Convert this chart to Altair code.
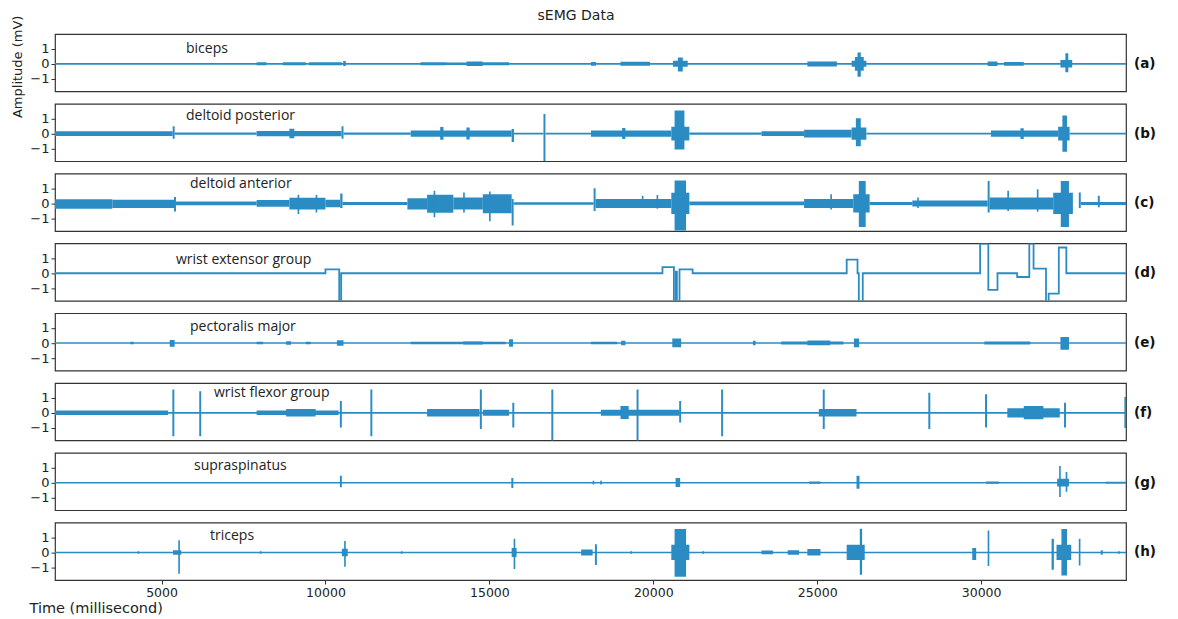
import altair as alt
import pandas as pd

# ---------------- data ----------------
T_MIN, T_MAX = 1750, 34420
Y_MIN, Y_MAX = -1.82, 1.97
x_ticks = [5000, 10000, 15000, 20000, 25000, 30000]
y_ticks = [-1, 0, 1]

names = ["biceps", "deltoid posterior", "deltoid anterior", "wrist extensor group",
         "pectoralis major", "wrist flexor group", "supraspinatus", "triceps"]
tags = ["(a)", "(b)", "(c)", "(d)", "(e)", "(f)", "(g)", "(h)"]

# activity segments per muscle: start (ms), end (ms), low (mV), high (mV)
biceps_t0 = [1750, 7900, 8700, 9500, 10540, 12900, 13700, 14300, 14800, 18100, 19000, 20600, 20750, 24700, 26050, 26150, 26230, 30200, 30700, 32420, 32570]
biceps_t1 = [34420, 8200, 9400, 10500, 10620, 13700, 14400, 14800, 15600, 18250, 19900, 21050, 20900, 25600, 26500, 26420, 26330, 30500, 31300, 32780, 32660]
biceps_lo = [-0.06, -0.1, -0.1, -0.1, -0.15, -0.1, -0.08, -0.15, -0.1, -0.12, -0.13, -0.2, -0.5, -0.18, -0.2, -0.45, -0.85, -0.15, -0.12, -0.25, -0.55]
biceps_hi = [0.06, 0.1, 0.1, 0.1, 0.18, 0.1, 0.08, 0.15, 0.1, 0.12, 0.13, 0.2, 0.42, 0.16, 0.2, 0.45, 0.75, 0.15, 0.12, 0.25, 0.7]

post_t0 = [1750, 5340, 5400, 7900, 8900, 10490, 10550, 12600, 13500, 14300, 15680, 15750, 16650, 16710, 18100, 19050, 20550, 20650, 21100, 23300, 24600, 26050, 26180, 26500, 30300, 31200, 32350, 32480, 32700]
post_t1 = [5340, 5400, 7900, 10490, 9050, 10550, 12600, 15680, 13600, 14400, 15750, 16650, 16710, 18100, 20550, 19150, 21100, 20950, 23300, 24600, 26050, 26500, 26330, 30300, 32350, 31300, 32700, 32620, 34420]
post_lo = [-0.15, -0.33, -0.08, -0.17, -0.3, -0.33, -0.08, -0.2, -0.4, -0.38, -0.55, -0.06, -1.82, -0.06, -0.2, -0.35, -0.45, -1.05, -0.08, -0.15, -0.25, -0.4, -0.83, -0.06, -0.2, -0.35, -0.45, -1.2, -0.06]
post_hi = [0.15, 0.48, 0.08, 0.17, 0.33, 0.48, 0.08, 0.2, 0.43, 0.4, 0.3, 0.06, 1.3, 0.06, 0.2, 0.38, 0.45, 1.52, 0.08, 0.15, 0.25, 0.4, 1.02, 0.06, 0.2, 0.35, 0.45, 1.2, 0.06]

ant_t0 = [1750, 3500, 5380, 5440, 7900, 8900, 9150, 9700, 10000, 10450, 10520, 12500, 13100, 13300, 13900, 14200, 14800, 14990, 15680, 15740, 18180, 18240, 19650, 20100, 20550, 20650, 21100, 24600, 25400, 26100, 26270, 26600, 27900, 28050, 30200, 30260, 30800, 31700, 32200, 32430, 32980, 33040, 33560]
ant_t1 = [3500, 5380, 5440, 7900, 8900, 10000, 9200, 9750, 10450, 10520, 12500, 13100, 13900, 13350, 14800, 14250, 15680, 15040, 15740, 18180, 18240, 20550, 19700, 20150, 21100, 21000, 24600, 26100, 25450, 26600, 26480, 27900, 30200, 28100, 30260, 32200, 30850, 31750, 32800, 32680, 33040, 34420, 33620]
ant_lo = [-0.35, -0.3, -0.54, -0.12, -0.22, -0.4, -0.7, -0.6, -0.25, -0.3, -0.1, -0.4, -0.62, -0.91, -0.4, -0.6, -0.65, -1.17, -1.45, -0.08, -0.5, -0.3, -0.3, -0.35, -0.7, -1.78, -0.12, -0.3, -0.4, -0.6, -1.56, -0.1, -0.2, -0.3, -0.6, -0.4, -0.5, -0.55, -0.7, -1.56, -0.3, -0.1, -0.25]
ant_hi = [0.28, 0.25, 0.43, 0.12, 0.22, 0.38, 0.57, 0.55, 0.25, 0.65, 0.1, 0.35, 0.58, 0.83, 0.4, 0.72, 0.6, 0.78, 0.3, 0.08, 1.0, 0.3, 0.5, 0.55, 0.7, 1.52, 0.12, 0.3, 0.6, 0.6, 1.48, 0.1, 0.2, 0.4, 1.48, 0.4, 0.83, 0.93, 0.7, 1.48, 0.72, 0.1, 0.5]

# wrist extensor group: step signal, time (ms) and level (mV)
ext_t = [1750, 10000, 10420, 10480, 20280, 20630, 20690, 20720, 20800, 21200, 25900, 26230, 26270, 26390, 29970, 30220, 30500, 31100, 31470, 31600, 31980, 32060, 32370, 32600, 34420]
ext_v = [0, 0.25, -1.95, 0, 0.4, -1.95, 0.1, -1.95, 0.25, 0, 0.9, 0, -1.95, 0, 1.95, -1.1, 0, -0.25, 1.95, 0.3, -1.95, -1.35, 1.7, 0, 0]

pect_t0 = [1750, 4050, 5250, 7900, 8800, 9400, 10350, 12600, 14200, 15600, 18100, 19020, 20580, 23040, 23900, 24700, 26120, 30100, 32420]
pect_t1 = [34420, 4150, 5400, 8100, 8950, 9550, 10550, 15500, 14800, 15720, 18900, 19150, 20850, 23120, 25800, 25400, 26280, 31500, 32680]
pect_lo = [-0.05, -0.08, -0.25, -0.08, -0.12, -0.08, -0.18, -0.08, -0.1, -0.25, -0.08, -0.15, -0.28, -0.15, -0.1, -0.15, -0.28, -0.1, -0.45]
pect_hi = [0.05, 0.08, 0.2, 0.08, 0.12, 0.08, 0.18, 0.08, 0.1, 0.25, 0.08, 0.15, 0.3, 0.15, 0.1, 0.17, 0.3, 0.1, 0.4]

flex_t0 = [1750, 1750, 5330, 6150, 7900, 8800, 10440, 11370, 13100, 14710, 14800, 15700, 16890, 18400, 19000, 19490, 20790, 22070, 25050, 25170, 28390, 30120, 30800, 31300, 32530, 34370]
flex_t1 = [34420, 5200, 5390, 6210, 10400, 9700, 10500, 11430, 14700, 14770, 15600, 15760, 16950, 20800, 19250, 19550, 20850, 22130, 26200, 25230, 28450, 30180, 32400, 31900, 32590, 34420]
flex_lo = [-0.06, -0.15, -1.54, -1.54, -0.15, -0.25, -0.96, -1.54, -0.25, -1.07, -0.2, -0.96, -1.9, -0.2, -0.4, -1.9, -0.63, -1.54, -0.25, -1.07, -1.07, -0.96, -0.3, -0.42, -0.96, -1.0]
flex_hi = [0.06, 0.15, 1.54, 1.43, 0.15, 0.25, 0.78, 1.54, 0.25, 1.54, 0.2, 0.67, 1.54, 0.2, 0.45, 1.54, 0.78, 1.54, 0.25, 1.54, 1.33, 1.22, 0.3, 0.45, 0.67, 1.05]

supra_t0 = [1750, 10440, 15670, 18150, 18380, 20680, 24750, 26200, 30150, 32320, 32380, 32580, 33800]
supra_t1 = [34420, 10500, 15730, 18200, 18430, 20820, 25100, 26290, 30550, 32680, 32430, 32630, 34400]
supra_lo = [-0.05, -0.3, -0.35, -0.12, -0.12, -0.28, -0.08, -0.4, -0.08, -0.25, -0.95, -0.6, -0.06]
supra_hi = [0.05, 0.45, 0.3, 0.12, 0.12, 0.3, 0.08, 0.45, 0.08, 0.25, 1.1, 0.7, 0.06]

tri_t0 = [1750, 4270, 5350, 5510, 8000, 10500, 10570, 12300, 15680, 15740, 17800, 18220, 19300, 20550, 20650, 21500, 23300, 24100, 24700, 25900, 26300, 29730, 30200, 32150, 32300, 32450, 32980, 33650, 34180]
tri_t1 = [34420, 4320, 5600, 5560, 8050, 10680, 10620, 12350, 15830, 15790, 18150, 18280, 19350, 21100, 21000, 21550, 23650, 24450, 25100, 26450, 26370, 29850, 30250, 32220, 32750, 32620, 33030, 33710, 34230]
tri_lo = [-0.05, -0.08, -0.15, -1.4, -0.08, -0.25, -0.95, -0.08, -0.3, -1.1, -0.2, -0.83, -0.08, -0.5, -1.6, -0.08, -0.12, -0.15, -0.2, -0.5, -1.48, -0.5, -0.9, -1.14, -0.5, -1.53, -0.87, -0.15, -0.08]
tri_hi = [0.05, 0.08, 0.15, 0.8, 0.08, 0.25, 0.75, 0.08, 0.3, 0.9, 0.2, 0.54, 0.08, 0.5, 1.55, 0.08, 0.12, 0.15, 0.22, 0.5, 1.56, 0.3, 1.45, 0.9, 0.5, 1.54, 0.9, 0.15, 0.08]

segments = {
    0: (biceps_t0, biceps_t1, biceps_lo, biceps_hi),
    1: (post_t0, post_t1, post_lo, post_hi),
    2: (ant_t0, ant_t1, ant_lo, ant_hi),
    4: (pect_t0, pect_t1, pect_lo, pect_hi),
    5: (flex_t0, flex_t1, flex_lo, flex_hi),
    6: (supra_t0, supra_t1, supra_lo, supra_hi),
    7: (tri_t0, tri_t1, tri_lo, tri_hi),
}

# ---------------- layout / style ----------------
W = 1071
H = 57.4
BLUE = "#2b8cc4"
FONT = "DejaVu Sans"
name_x = [131, 131, 135, 121, 135, 159, 139, 155]
name_y = [19, 16, 14.5, 20.5, 17.5, 14, 17.5, 17]
zero_px = H * Y_MAX / (Y_MAX - Y_MIN)

xscale = alt.Scale(domain=[T_MIN, T_MAX], nice=False, zero=False)
yscale = alt.Scale(domain=[Y_MIN, Y_MAX], nice=False, zero=False)


def x_enc(field, last):
    if last:
        return alt.X(field, type="quantitative", scale=xscale,
                     axis=alt.Axis(values=x_ticks, format="d", title="Time (millisecond)",
                                   titleFont=FONT, titleFontSize=14.5, titleFontWeight="normal",
                                   titleColor="#222", titleAlign="left", titleBaseline="top",
                                   titleAnchor="start", titleX=-26, titleY=21,
                                   labelFontSize=12.5, labelPadding=2))
    return alt.X(field, type="quantitative", scale=xscale, axis=None)


def y_enc(field, first):
    kw = dict(values=y_ticks, labelExpr="replace(datum.label, '-', '\u2212')")
    if first:
        ax = alt.Axis(title="Amplitude (mV)", titleFont=FONT, titleFontSize=13,
                      titleFontWeight="normal", titleColor="#222", titleAngle=270,
                      titleAlign="center", titleBaseline="bottom", titleX=-31, titleY=32.3, **kw)
    else:
        ax = alt.Axis(title=None, **kw)
    return alt.Y(field, type="quantitative", scale=yscale, axis=ax)


panels = []
for i in range(8):
    first, last = i == 0, i == 7
    if i == 3:
        df = pd.DataFrame({"t": ext_t, "v": ext_v})
        base = alt.Chart(df).mark_line(interpolate="step-after", color=BLUE,
                                       strokeWidth=1.8, clip=True).encode(
            x=x_enc("t", last), y=y_enc("v", first))
    else:
        t0, t1, lo, hi = segments[i]
        df = pd.DataFrame({"t0": t0, "t1": t1, "lo": lo, "hi": hi})
        base = alt.Chart(df).mark_rect(color=BLUE, clip=True).encode(
            x=x_enc("t0", last), x2="t1", y=y_enc("lo", first), y2="hi")

    name = alt.Chart(pd.DataFrame({"s": [names[i]]})).mark_text(
        font="Open Sans", fontSize=14, color="#222", align="left", baseline="alphabetic"
    ).encode(x=alt.value(name_x[i]), y=alt.value(name_y[i]), text="s:N")
    tag = alt.Chart(pd.DataFrame({"s": [tags[i]]})).mark_text(
        font=FONT, fontSize=13.5, fontWeight="bold", color="#111", align="left", baseline="middle"
    ).encode(x=alt.value(W + 8), y=alt.value(zero_px), text="s:N")
    layers = [base, name, tag]
    if first:
        title = alt.Chart(pd.DataFrame({"s": ["sEMG Data"]})).mark_text(
            font=FONT, fontSize=14, color="#222", align="center", baseline="middle"
        ).encode(x=alt.value(521), y=alt.value(-18), text="s:N")
        layers.append(title)
    panels.append(alt.layer(*layers).properties(width=W, height=H))

chart = alt.vconcat(*panels, spacing=11.8, bounds="flush").properties(
    padding={"left": 2, "top": 0, "right": 5, "bottom": 5}
).configure_view(stroke="#333333", strokeWidth=1.2).configure_axis(
    labelFont=FONT, labelFontSize=13, labelColor="#222", tickColor="#333",
    tickSize=4, domain=False, grid=False, labelPadding=2
)

chart.save("out.html", embed_options={"renderer": "svg", "actions": False})
